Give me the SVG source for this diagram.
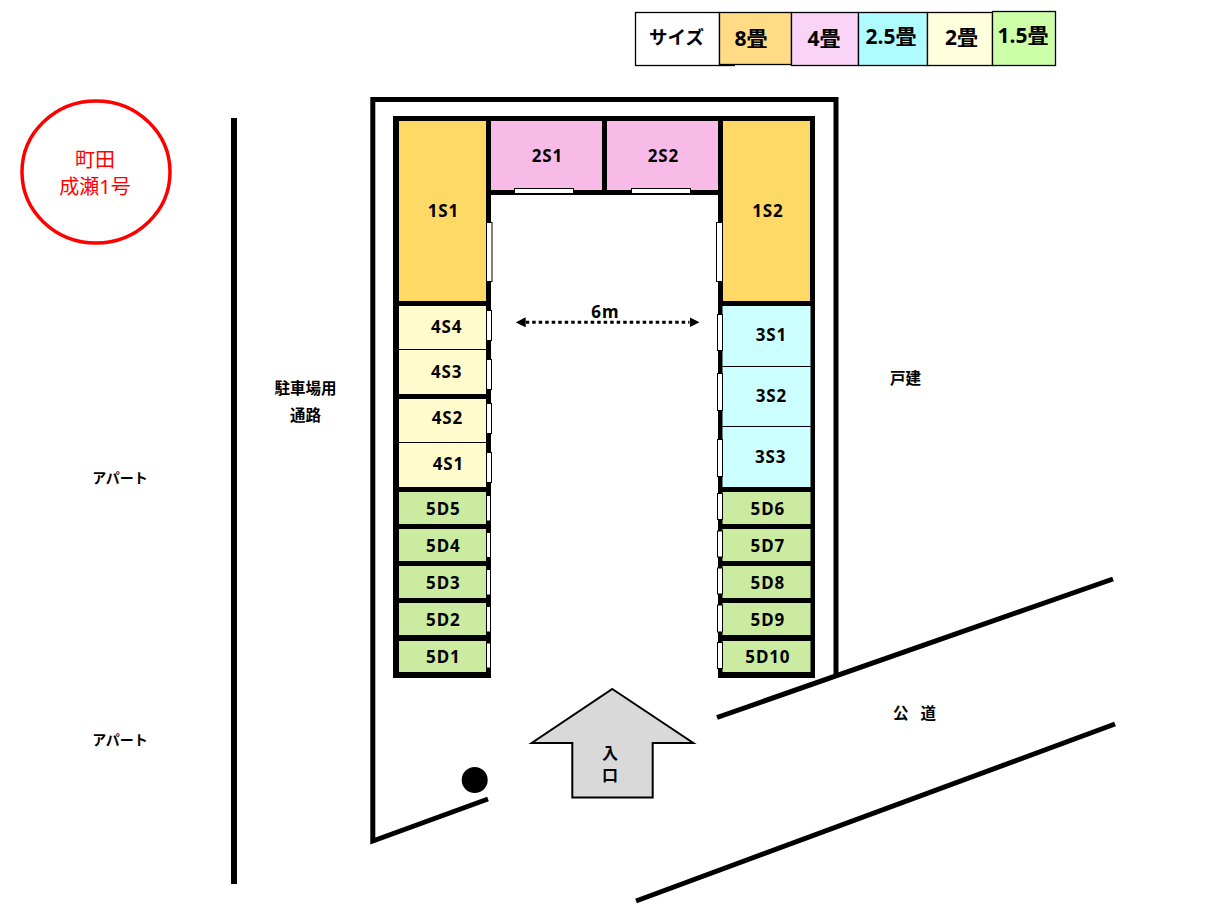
<svg xmlns="http://www.w3.org/2000/svg" width="1227" height="915" viewBox="0 0 1227 915">
<style>
text{font-family:"Noto Sans","Noto Sans CJK JP",sans-serif;font-weight:700;fill:#000;text-anchor:middle}
.lg{font-size:21px}
.sz{font-size:18.500px}
.u{font-size:17px;letter-spacing:.9px}
.m{font-size:15.500px}
.ap{font-size:14px}
.rd{fill:#f00;font-weight:400;font-size:20px}
.wall{fill:#000}
.door{fill:#fff;stroke:#000;stroke-width:1}
.ln{fill:none;stroke:#000;stroke-width:5}
.thin{stroke:#000;stroke-width:1}
.lb{stroke:#000;stroke-width:1.300}
.c8{fill:#ffd966}.c4{fill:#f8bbe8}.c2{fill:#fffbcc}.c3{fill:#ccffff}.c1{fill:#cbeca0}
</style>
<defs>
<marker id="ah" viewBox="0 0 10 10" refX="0" refY="5" markerUnits="userSpaceOnUse" markerWidth="10" markerHeight="10" orient="auto-start-reverse"><path d="M0 0L10 5L0 10Z" fill="#000"/></marker>
</defs>
<rect width="1227" height="915" fill="#fff"/>

<g id="legend">
<rect class="lb" x="635.500" y="12.500" width="84" height="53" fill="#fff"/>
<path class="lb" d="M719 65.500H735"/>
<rect class="lb" x="719.500" y="12.500" width="72" height="52" fill="#ffdb85"/>
<rect class="lb" x="791.500" y="12.500" width="67" height="53" fill="#f9d4f7"/>
<rect class="lb" x="858.500" y="12.500" width="69" height="53" fill="#aefcff"/>
<rect class="lb" x="927.500" y="12.500" width="65" height="53" fill="#ffffdd"/>
<rect class="lb" x="992.500" y="11.500" width="63" height="54" fill="#cdfea8"/>
<text class="sz" x="676.500" y="44">サイズ</text>
<text class="lg" x="751" y="45.500">8畳</text>
<text class="lg" x="824" y="45.500">4畳</text>
<text class="lg" x="891" y="44">2.5畳</text>
<text class="lg" x="961.500" y="45">2畳</text>
<text class="lg" x="1023" y="42.500">1.5畳</text>
</g>

<g id="title">
<ellipse cx="96" cy="172" rx="74" ry="71" fill="#fff" stroke="#f00" stroke-width="3.500"/>
<text class="rd" x="95" y="167">町田</text>
<text class="rd" x="95" y="194">成瀬1号</text>
</g>

<g id="site-lines">
<path class="ln" style="stroke-width:6" d="M234 118V884"/>
<path class="ln" d="M488 799L372.800 841V99.500H836V675"/>
<path class="ln" d="M717 717.500L1113 579"/>
<path class="ln" d="M636 901L1115 724"/>
<circle cx="474.700" cy="780" r="13" fill="#000"/>
</g>

<g id="building-walls">
<rect class="wall" x="393" y="116" width="422" height="79"/>
<rect class="wall" x="393" y="116" width="98" height="562"/>
<rect class="wall" x="718" y="116" width="97" height="562"/>
</g>

<g id="unit-1S1"><rect class="c8" x="399" y="121" width="87" height="180"/><rect class="door" x="486.500" y="222.500" width="5.500" height="59"/><text class="u" x="443.400" y="217">1S1</text></g>
<g id="unit-2S1"><rect class="c4" x="491" y="121" width="111" height="69"/><rect class="door" x="514.500" y="188.500" width="59" height="5"/><text class="u" x="547.400" y="161.500">2S1</text></g>
<g id="unit-2S2"><rect class="c4" x="607" y="121" width="111" height="69"/><rect class="door" x="631.500" y="188.500" width="59" height="5"/><text class="u" x="663.400" y="161.500">2S2</text></g>
<g id="unit-1S2"><rect class="c8" x="723" y="121" width="87" height="180"/><rect class="door" x="716.500" y="222.500" width="6" height="59"/><text class="u" x="767.900" y="217">1S2</text></g>

<g id="unit-4S4"><rect class="c2" x="399" y="306" width="87" height="43.500"/><rect class="door" x="486.500" y="310.500" width="5" height="30"/><text class="u" x="446.700" y="333">4S4</text></g>
<g id="unit-4S3"><rect class="c2" x="399" y="349.500" width="87" height="44.500"/><path class="thin" d="M399 349.500H486"/><rect class="door" x="486.500" y="359.500" width="5" height="30"/><text class="u" x="446.700" y="377.500">4S3</text></g>
<g id="unit-4S2"><rect class="c2" x="399" y="399" width="87" height="43"/><rect class="door" x="486.500" y="403.500" width="5" height="30"/><text class="u" x="447.400" y="423.500">4S2</text></g>
<g id="unit-4S1"><rect class="c2" x="399" y="442" width="87" height="45"/><path class="thin" d="M399 442.500H486"/><rect class="door" x="486.500" y="452.500" width="5" height="30"/><text class="u" x="448.400" y="469.500">4S1</text></g>

<g id="unit-5D5"><rect class="c1" x="399" y="492" width="87" height="32"/><rect class="door" x="486.500" y="495.500" width="4" height="25.500"/><text class="u" x="443.400" y="514.500">5D5</text></g>
<g id="unit-5D4"><rect class="c1" x="399" y="529" width="87" height="32"/><rect class="door" x="486.500" y="532.500" width="4" height="25"/><text class="u" x="443.400" y="551.500">5D4</text></g>
<g id="unit-5D3"><rect class="c1" x="399" y="566" width="87" height="32"/><rect class="door" x="486.500" y="569.500" width="4" height="25.500"/><text class="u" x="443.400" y="588.500">5D3</text></g>
<g id="unit-5D2"><rect class="c1" x="399" y="603" width="87" height="32"/><rect class="door" x="486.500" y="606.500" width="4" height="25.500"/><text class="u" x="443.400" y="625.500">5D2</text></g>
<g id="unit-5D1"><rect class="c1" x="399" y="641" width="87" height="31"/><rect class="door" x="486.500" y="643" width="4" height="25"/><text class="u" x="443.400" y="662.500">5D1</text></g>

<g id="unit-3S1"><rect class="c3" x="722.500" y="306" width="88" height="60.500"/><rect class="door" x="717.500" y="314.500" width="5" height="36"/><text class="u" x="771.400" y="340.500">3S1</text></g>
<g id="unit-3S2"><rect class="c3" x="722.500" y="366.500" width="88" height="60"/><path class="thin" d="M722.500 366.500H810.500"/><rect class="door" x="717.500" y="373.500" width="5" height="37"/><text class="u" x="771.400" y="401.500">3S2</text></g>
<g id="unit-3S3"><rect class="c3" x="722.500" y="426.500" width="88" height="60.500"/><path class="thin" d="M722.500 426.500H810.500"/><rect class="door" x="717.500" y="439.500" width="5" height="37"/><text class="u" x="770.700" y="463">3S3</text></g>

<g id="unit-5D6"><rect class="c1" x="722.500" y="492" width="88" height="32"/><rect class="door" x="717.500" y="493.500" width="5" height="26"/><text class="u" x="767.900" y="514.500">5D6</text></g>
<g id="unit-5D7"><rect class="c1" x="722.500" y="529" width="88" height="32"/><rect class="door" x="717.500" y="531" width="5" height="26"/><text class="u" x="767.900" y="551.500">5D7</text></g>
<g id="unit-5D8"><rect class="c1" x="722.500" y="566" width="88" height="32"/><rect class="door" x="717.500" y="568" width="5" height="26"/><text class="u" x="767.900" y="588.500">5D8</text></g>
<g id="unit-5D9"><rect class="c1" x="722.500" y="603" width="88" height="32"/><rect class="door" x="717.500" y="605" width="5" height="27"/><text class="u" x="767.900" y="625.500">5D9</text></g>
<g id="unit-5D10"><rect class="c1" x="722.500" y="641" width="88" height="31"/><rect class="door" x="717.500" y="642.500" width="5" height="26"/><text class="u" x="767.900" y="662.500">5D10</text></g>

<g id="connectors">
<path d="M525.700 322.300H689.500" fill="none" stroke="#000" stroke-width="3" stroke-dasharray="3.500 3" marker-start="url(#ah)" marker-end="url(#ah)"/>
</g>

<g id="entrance">
<path d="M612.300 689L693.300 743H652.700V797.500H572.300V743H531.700Z" fill="#d9d9d9" stroke="#000" stroke-width="2"/>
<text x="610" y="759" font-size="16">入</text>
<text x="610" y="781" font-size="16">口</text>
</g>

<g id="labels">
<text class="u" x="605.400" y="318">6m</text>
<text class="m" x="305.500" y="394">駐車場用</text>
<text class="m" x="305.500" y="420.500">通路</text>
<text class="m" x="905.500" y="383.500">戸建</text>
<text class="ap" x="120" y="483">アパート</text>
<text class="ap" x="120" y="745">アパート</text>
<text class="m" x="914.500" y="718.500" style="word-spacing:8px">公 道</text>
</g>
</svg>
